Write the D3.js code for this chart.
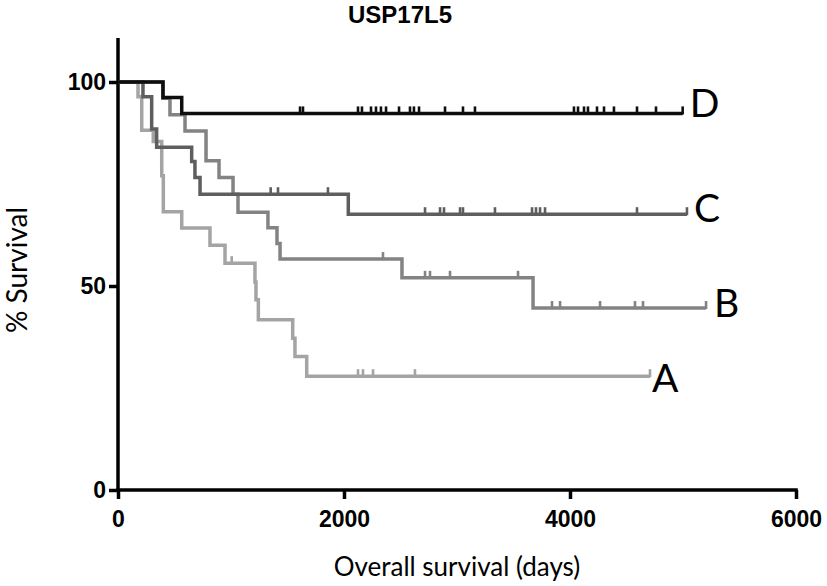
<!DOCTYPE html>
<html><head><meta charset="utf-8">
<script src="https://cdn.jsdelivr.net/npm/d3@7"></script>
<style>body{margin:0;background:#fff}svg{display:block}</style>
</head><body>
<svg id="chart" width="827" height="586"></svg>
<script>
// ---------- data ----------
const title = "USP17L5";
const xLabel = "Overall survival (days)";
const yLabel = "% Survival";
const xTicks = [0, 2000, 4000, 6000];
const yTicks = [0, 50, 100];
const groups = ["A", "B", "C", "D"];

// Kaplan-Meier step times (days) and survival (%) after each step
const timesA = [0, 177, 210, 312, 387, 401, 564, 814, 947, 1212, 1221, 1242, 1546, 1566, 1670];
const survA  = [100, 96.4, 88.2, 85.4, 77, 68.2, 64.2, 60, 55.6, 51, 46.6, 41.7, 37.2, 32.7, 27.9];
const endA = 4708;
const censorA = [1006, 2124, 2168, 2257, 2628];

const timesB = [0, 398, 460, 593, 779, 894, 1018, 1062, 1327, 1407, 1434, 2513, 3673];
const survB  = [100, 96, 92, 88, 80.7, 76.6, 72.5, 68.1, 64.3, 60.4, 56.6, 52, 44.6];
const endB = 5204;
const censorB = [2345, 2717, 2761, 2938, 3540, 3841, 3912, 4266, 4575, 4646];

const timesC = [0, 221, 298, 342, 652, 681, 726, 2038];
const survC  = [100, 96.4, 88.5, 84, 80.5, 76.6, 72.5, 67.6];
const endC = 5035;
const censorC = [1351, 1416, 1858, 2717, 2850, 2885, 3027, 3053, 3336, 3664, 3699, 3735, 3779, 4593];

const timesD = [0, 398, 564];
const survD  = [100, 96.2, 92.3];
const endD = 4997;
const censorD = [1611, 1637, 2124, 2159, 2239, 2283, 2327, 2372, 2487, 2584, 2619, 2664, 2894, 3053, 3159,
                 4035, 4071, 4124, 4159, 4239, 4301, 4389, 4593, 4761];

// ---------- style ----------
const colors = {A: "#a4a4a4", B: "#838383", C: "#5e5e5e", D: "#0e0e0e"};
const labelOffset = {A: [2, 16], B: [8, 9], C: [7, 8], D: [7, 4]};

const series = [
  {name: "A", t: timesA, s: survA, end: endA, cens: censorA},
  {name: "B", t: timesB, s: survB, end: endB, cens: censorB},
  {name: "C", t: timesC, s: survC, end: endC, cens: censorC},
  {name: "D", t: timesD, s: survD, end: endD, cens: censorD}
];

const svg = d3.select("#chart");
const x = d3.scaleLinear().domain([0, 6000]).range([118, 796]);
const y = d3.scaleLinear().domain([0, 100]).range([490, 82]);
const yTop = 110.8;

// axes
const xAxis = svg.append("g").attr("transform", `translate(0,${y(0)})`)
  .call(d3.axisBottom(x).tickValues(xTicks).tickSize(9).tickSizeOuter(0).tickPadding(12).tickFormat(d3.format("d")));
const yAxis = svg.append("g").attr("transform", `translate(${x(0)},0)`)
  .call(d3.axisLeft(y).tickValues(yTicks).tickSize(9).tickSizeOuter(0).tickPadding(3).tickFormat(d3.format("d")));
[xAxis, yAxis].forEach(g => {
  g.select(".domain").remove();
  g.selectAll(".tick line").attr("stroke", "#000").attr("stroke-width", 3.5);
  g.selectAll(".tick text").attr("fill", "#000")
    .style("font-family", "'Liberation Sans', Arial, sans-serif")
    .style("font-weight", "bold").style("font-size", "23px");
});
svg.append("line").attr("x1", x(0)).attr("x2", x(0)).attr("y1", y(0) + 1.75).attr("y2", y(yTop))
  .attr("stroke", "#000").attr("stroke-width", 3.5);
svg.append("line").attr("x1", x(0) - 1.75).attr("x2", x(6000) + 1.75).attr("y1", y(0)).attr("y2", y(0))
  .attr("stroke", "#000").attr("stroke-width", 3.5);

// curves
const line = d3.line().x(d => x(d[0])).y(d => y(d[1])).curve(d3.curveStepAfter);
function survAt(sr, t) {
  let v = sr.s[0];
  for (let i = 0; i < sr.t.length; i++) if (sr.t[i] <= t) v = sr.s[i];
  return v;
}
series.forEach(sr => {
  const pts = sr.t.map((t, i) => [t, sr.s[i]]);
  pts.push([sr.end, sr.s[sr.s.length - 1]]);
  const g = svg.append("g");
  g.append("path").attr("d", line(pts)).attr("fill", "none")
    .attr("stroke", colors[sr.name]).attr("stroke-width", 3.5).attr("stroke-linejoin", "miter");
  g.selectAll("line.cens").data(sr.cens.concat([sr.end])).join("line")
    .attr("x1", d => x(d)).attr("x2", d => x(d))
    .attr("y1", d => y(survAt(sr, d)) + 1)
    .attr("y2", d => y(survAt(sr, d)) - 7)
    .attr("stroke", colors[sr.name]).attr("stroke-width", 2.6);
  const off = labelOffset[sr.name];
  svg.append("text").attr("x", x(sr.end) + off[0]).attr("y", y(sr.s[sr.s.length - 1]) + off[1])
    .text(sr.name).style("font-family", "Lato, 'Open Sans', sans-serif")
    .style("font-size", "39px").attr("fill", "#000");
});

// titles
svg.append("text").attr("x", 400).attr("y", 23).attr("text-anchor", "middle")
  .text(title).style("font-family", "'Liberation Sans', Arial, sans-serif")
  .style("font-weight", "bold").style("font-size", "24px");
svg.append("text").attr("x", 457).attr("y", 576).attr("text-anchor", "middle")
  .text(xLabel).style("font-family", "Lato, sans-serif").style("font-size", "26px");
svg.append("text").attr("transform", "translate(27,270) rotate(-90)").attr("text-anchor", "middle")
  .text(yLabel).style("font-family", "Lato, sans-serif").style("font-size", "28px");
</script>
</body></html>
